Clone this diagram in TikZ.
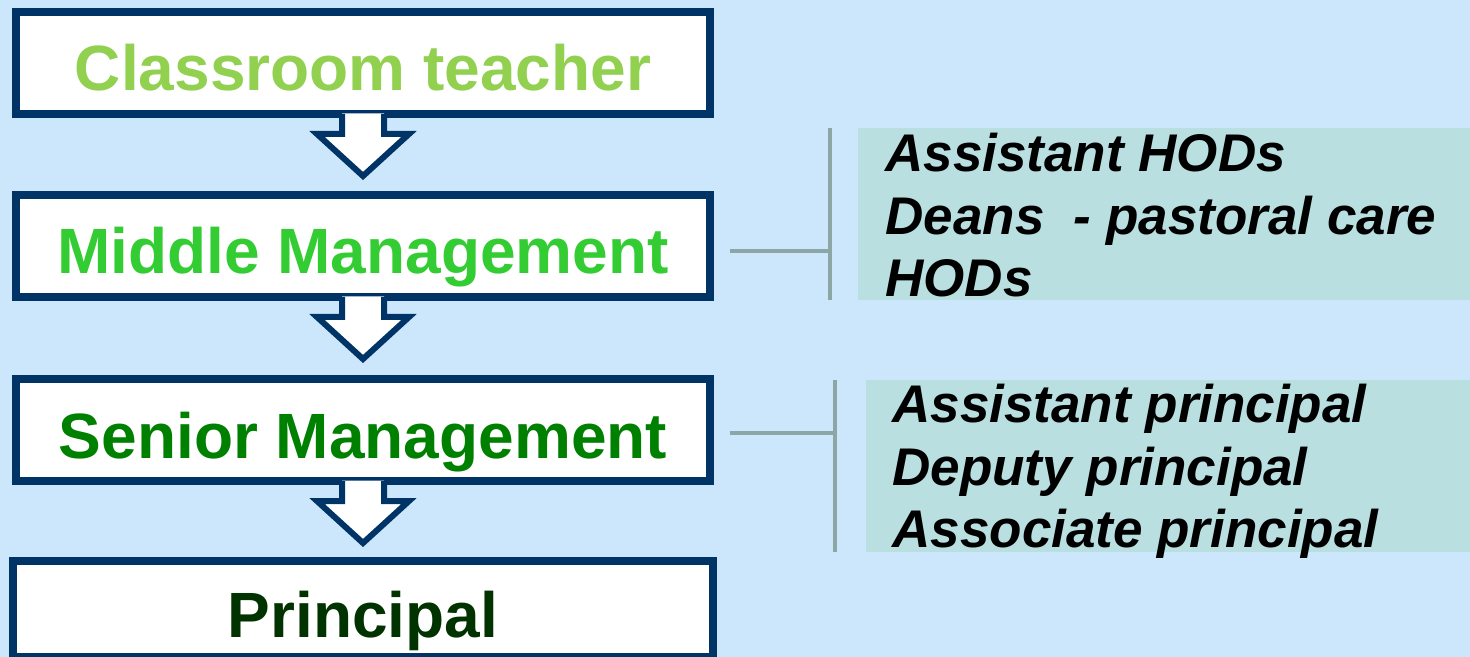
\documentclass[tikz,border=0pt]{standalone}
\usepackage{fontspec}
\setmainfont{Liberation Sans}
\usetikzlibrary{positioning,calc}
\definecolor{bgblue}{RGB}{204,231,251}
\definecolor{listfill}{RGB}{185,223,225}
\definecolor{bracketgray}{RGB}{140,166,166}
\definecolor{navy}{RGB}{0,51,102}
\definecolor{greenA}{RGB}{146,208,80}
\definecolor{greenB}{RGB}{51,204,51}
\definecolor{greenC}{RGB}{0,128,0}
\definecolor{greenD}{RGB}{0,51,0}

\begin{document}
\begin{tikzpicture}[x=0.5pt,y=-0.5pt,
    level/.style={draw=navy,line width=4pt,fill=white,minimum width=347pt,minimum height=51pt,
      inner sep=0pt,font=\bfseries\fontsize{32}{38}\selectfont,text height=28pt,text depth=0pt},
    role/.style={anchor=base west,inner sep=0pt,font=\bfseries\itshape\fontsize{26.5}{31}\selectfont},
    bracket/.style={draw=bracketgray,line width=2pt},
    flow/.style={draw=navy,line width=3pt,line join=miter}]
    \useasboundingbox (0,0) rectangle (1470,657);
    \fill[bgblue] (0,0) rectangle (1470,657);

    % career levels
    \node[level,text=greenA] (cls) at (363,63) {Classroom teacher};
    \node[level,text=greenB] (mid) at (363,246) {Middle Management};
    \node[level,text=greenC] (sen) at (363,430) {Senior Management};
    \node[level,text=greenD,minimum width=350pt,minimum height=48pt] (prin) at (363,609) {Principal};

    % block arrows between levels
    \foreach \a in {cls,mid,sen} {
      \coordinate (t) at (\a.south);
      \fill[white] ($(t)+(-21,-4.5)$) -- ($(t)+(-21,16)$) -- ($(t)+(-46,16)$) -- ($(t)+(0,58)$)
        -- ($(t)+(46,16)$) -- ($(t)+(21,16)$) -- ($(t)+(21,-4.5)$) -- cycle;
      \draw[flow] ($(t)+(-21,-4)$) -- ($(t)+(-21,16)$) -- ($(t)+(-46,16)$) -- ($(t)+(0,58)$)
        -- ($(t)+(46,16)$) -- ($(t)+(21,16)$) -- ($(t)+(21,-4)$);
    }

    % roles in middle management
    \fill[listfill] (858,128) rectangle (1470,300);
    \coordinate (midtop) at (830,128);
    \coordinate (midbot) at (830,300);
    \coordinate (midjoin) at (830,251);
    \draw[bracket] (midtop) -- (midbot);
    \draw[bracket] ([xshift=8pt,yshift=-2.5pt]mid.east) -- (midjoin);
    \node[role] (asthod) at (885,172) {Assistant HODs};
    \node[role] (deans) at (885,235) {Deans\ \ - pastoral care};
    \node[role] (hods) at (885,297) {HODs};

    % roles in senior management
    \fill[listfill] (866,380) rectangle (1470,552);
    \coordinate (sentop) at (835,380);
    \coordinate (senbot) at (835,552);
    \coordinate (senjoin) at (835,433);
    \draw[bracket] (sentop) -- (senbot);
    \draw[bracket] ([xshift=8pt,yshift=-1.5pt]sen.east) -- (senjoin);
    \node[role] (astprin) at (892,422) {Assistant principal};
    \node[role] (depprin) at (892,485) {Deputy principal};
    \node[role] (assocprin) at (892,547) {Associate principal};
\end{tikzpicture}
\end{document}
